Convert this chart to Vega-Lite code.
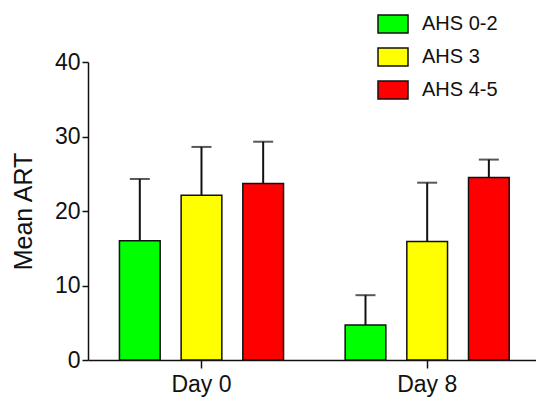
{
  "$schema": "https://vega.github.io/schema/vega-lite/v6.json",
  "width": 448,
  "height": 298,
  "autosize": {"type": "none"},
  "padding": {"left": 88, "top": 62, "right": 0, "bottom": 42},
  "background": "white",
  "config": {
    "view": {"stroke": null},
    "font": "Liberation Sans",
    "axis": {"grid": false, "domainColor": "#111", "domainWidth": 1.5, "tickColor": "#111", "tickWidth": 1.5, "labelColor": "#111", "titleColor": "#111", "labelFont": "Liberation Sans", "titleFont": "Liberation Sans", "labelOverlap": false}
  },
  "data": {
    "values": [
      {"day": "Day 0", "group": "AHS 0-2", "mean": 16.0, "upper": 24.3},
      {"day": "Day 0", "group": "AHS 3", "mean": 22.1, "upper": 28.6},
      {"day": "Day 0", "group": "AHS 4-5", "mean": 23.7, "upper": 29.3},
      {"day": "Day 8", "group": "AHS 0-2", "mean": 4.7, "upper": 8.7},
      {"day": "Day 8", "group": "AHS 3", "mean": 15.9, "upper": 23.8},
      {"day": "Day 8", "group": "AHS 4-5", "mean": 24.5, "upper": 26.9}
    ]
  },
  "encoding": {
    "x": {
      "field": "day", "type": "nominal",
      "scale": {"paddingInner": 0.273, "paddingOuter": 0.129, "align": 0.54},
      "axis": {"title": null, "labelAngle": 0, "labelFontSize": 23, "tickSize": 8, "labelPadding": 5}
    },
    "xOffset": {"field": "group", "type": "nominal", "scale": {"paddingInner": 0.34, "paddingOuter": 0}}
  },
  "layer": [
    {
      "mark": {"type": "rule", "color": "#111", "strokeWidth": 2},
      "encoding": {
        "y": {"field": "mean", "type": "quantitative"},
        "y2": {"field": "upper"}
      }
    },
    {
      "mark": {"type": "tick", "color": "#111", "thickness": 2, "size": 20, "orient": "horizontal"},
      "encoding": {
        "y": {"field": "upper", "type": "quantitative"}
      }
    },
    {
      "mark": {"type": "bar", "stroke": "#111", "strokeWidth": 1.5},
      "encoding": {
        "y": {
          "field": "mean", "type": "quantitative",
          "scale": {"domain": [0, 40], "nice": false},
          "axis": {"title": "Mean ART", "titleFontSize": 25, "titleFontWeight": "normal", "titlePadding": 18, "labelFontSize": 23, "values": [0, 10, 20, 30, 40], "tickSize": 6, "labelPadding": 2}
        },
        "color": {
          "field": "group", "type": "nominal",
          "scale": {"domain": ["AHS 0-2", "AHS 3", "AHS 4-5"], "range": ["#00ff00", "#ffff00", "#ff0000"]},
          "legend": {
            "title": null,
            "orient": "none",
            "legendX": 284,
            "legendY": -59,
            "symbolType": "M-0.75,-0.45H0.75V0.45H-0.75Z",
            "symbolSize": 1600,
            "symbolStrokeColor": "#111",
            "symbolStrokeWidth": 1.5,
            "symbolOpacity": 1,
            "labelFontSize": 20,
            "labelColor": "#111",
            "labelOffset": 8,
            "rowPadding": -1.5
          }
        }
      }
    }
  ]
}
